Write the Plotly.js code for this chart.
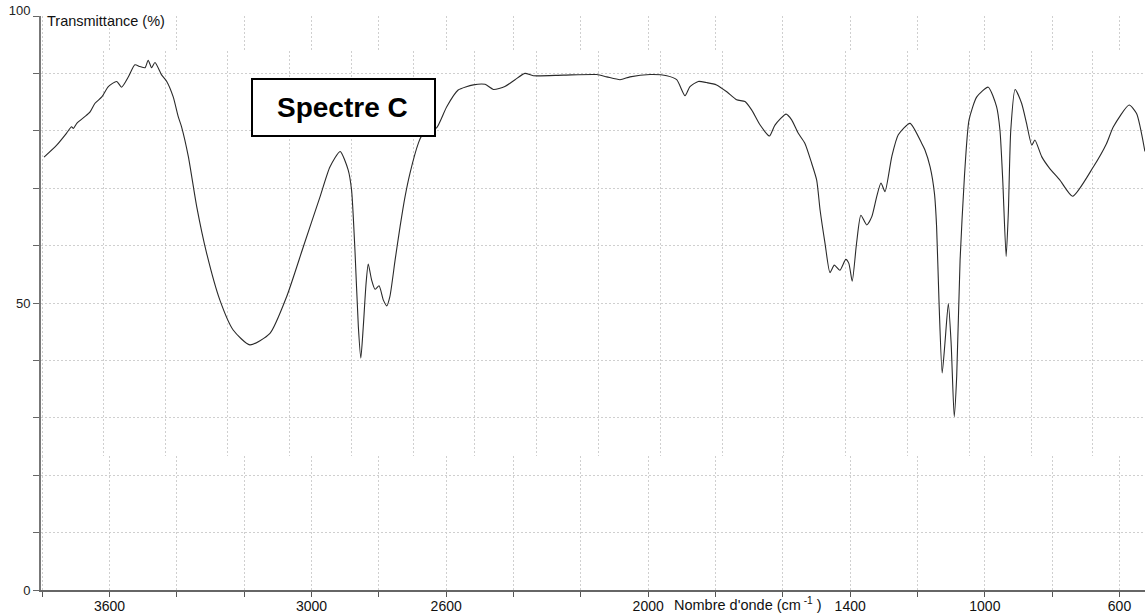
<!DOCTYPE html>
<html>
<head>
<meta charset="utf-8">
<script src="https://cdn.plot.ly/plotly-3.0.1.min.js"></script>
<style>
  html, body { margin: 0; padding: 0; background: #ffffff; }
  #chart { width: 1145px; height: 614px; }
</style>
</head>
<body>
<div id="chart"></div>
<script>
// ---- Data (IR spectrum, wavenumber in cm-1, transmittance in %) ----
const wavenumber = [
  3994, 3953, 3921, 3905, 3899, 3888, 3861, 3845, 3829, 3807,
  3786, 3759, 3743, 3721, 3700, 3684, 3667, 3657, 3646, 3635,
  3613, 3597, 3576, 3560, 3549, 3527, 3500, 3468, 3425, 3382,
  3328, 3263, 3209, 3155, 3101, 3069, 3036, 3010, 2999, 2988,
  2977, 2969, 2961, 2952, 2945, 2934, 2923, 2910, 2896, 2885,
  2875, 2858, 2842, 2826, 2810, 2783, 2772, 2745, 2724, 2691,
  2654, 2605, 2567, 2540, 2503, 2470, 2438, 2411, 2314, 2206,
  2173, 2130, 2098, 2033, 1979, 1947, 1920, 1904, 1877, 1850,
  1818, 1785, 1753, 1726, 1704, 1677, 1647, 1629, 1593, 1575,
  1554, 1532, 1510, 1494, 1483, 1467, 1451, 1437, 1419, 1400,
  1390, 1379, 1365, 1351, 1332, 1316, 1300, 1286, 1273, 1251,
  1230, 1192, 1154, 1144, 1127, 1113, 1106, 1098, 1088, 1079,
  1068, 1059, 1049, 1041, 1030, 1016, 1001, 976, 939, 912,
  901, 892, 881, 874, 866, 852, 831, 815, 798, 788,
  766, 741, 707, 666, 599, 556, 534, 483, 459, 432
];
const transmittance = [
  75.4, 77.5, 79.6, 80.7, 80.4, 81.3, 82.5, 83.3, 84.8, 85.9,
  87.7, 88.6, 87.6, 89.4, 91.5, 91.2, 91.0, 92.3, 91.0, 91.9,
  89.7, 88.6, 85.9, 82.5, 80.7, 75.5, 66.8, 58.7, 50.5, 45.3,
  42.7, 44.7, 51.1, 59.8, 68.5, 73.7, 76.4, 73.2, 69.7, 59.2,
  45.9, 40.4, 45.9, 53.4, 56.8, 54.0, 52.4, 53.0, 50.5, 49.5,
  51.1, 57.5, 63.3, 68.5, 72.6, 77.8, 79.1, 80.0, 80.5, 84.2,
  87.1, 88.0, 88.1, 87.2, 87.7, 88.9, 90.0, 89.6, 89.7, 89.8,
  89.4, 88.9, 89.4, 89.8, 89.6, 88.9, 86.1, 87.7, 88.6, 88.4,
  88.0, 86.8, 85.4, 85.1, 83.6, 81.0, 79.1, 81.0, 82.9, 81.9,
  79.6, 77.8, 74.3, 71.4, 66.2, 60.4, 55.3, 56.6, 55.7, 57.6,
  56.9, 53.8, 60.4, 65.3, 63.6, 65.0, 68.5, 70.9, 69.4, 75.5,
  79.3, 81.3, 77.8, 76.7, 73.7, 69.1, 63.3, 49.9, 37.8, 43.0,
  49.9, 43.0, 30.2, 37.2, 57.5, 72.0, 81.9, 85.9, 87.6, 84.2,
  80.1, 71.4, 58.1, 65.6, 80.1, 87.2, 84.8, 81.3, 77.5, 78.4,
  75.5, 73.5, 71.4, 68.6, 73.7, 77.8, 80.7, 84.5, 83.0, 76.4
];

// Labelled ticks (unlabelled ticks come from the minor tick grid every 200 cm-1 / 10 %)
const xTickValues = [3600, 3000, 2600, 2000, 1400, 1000, 600];
const xTickLabels = ['3600', '3000', '2600', '2000', '1400', '1000', '600'];
const yTickValuesBottom = [0], yTickLabelsBottom = ['0'];
const yTickValuesMiddle = [50], yTickLabelsMiddle = ['50'];
const yTickValuesTop = [100], yTickLabelsTop = ['100'];

const chartTitle = 'Spectre C';
const xTitle = "Nombre d'onde (cm<sup> -1</sup> )";
const yTitle = 'Transmittance (%)';

// ---- Layout geometry ----
const FONT = 'Liberation Sans, Arial, Helvetica, sans-serif';
const W = 1145, H = 614;
const M = { l: 41, r: 0, t: 16, b: 24 };
const plotW = W - M.l - M.r;   // 1104
const plotH = H - M.t - M.b;   // 574
const pxToPaperX = px => (px - M.l) / plotW;
const pxToPaperY = py => (H - M.b - py) / plotH;

// horizontal bands of the picture (the spectrum band has its own x scale)
const seamLow = pxToPaperY(456);
const seamHigh = pxToPaperY(51);

const GRID_COLOR = '#cfcfcf';
const GRID_DASH = '2px,2px';
const gridStyle = { showgrid: true, gridcolor: GRID_COLOR, gridwidth: 1, griddash: GRID_DASH, zeroline: false };

function yAxis(domain, anchor, vals, labels, shift) {
  return Object.assign({}, gridStyle, {
    domain: domain,
    range: [domain[0] * 100, domain[1] * 100],
    anchor: anchor,
    tickmode: 'array',
    tickvals: vals,
    ticktext: labels,
    ticks: 'outside', ticklen: 6, tickwidth: 1, tickcolor: '#666',
    ticklabelshift: shift || 0,
    minor: {
      tickmode: 'linear', tick0: 0, dtick: 10,
      ticks: 'outside', ticklen: 6, tickwidth: 1, tickcolor: '#666',
      showgrid: true, gridcolor: GRID_COLOR, gridwidth: 1, griddash: GRID_DASH
    },
    showline: true, linecolor: '#777', linewidth: 2,
    tickfont: { family: FONT, size: 13, color: '#222' },
    fixedrange: true
  });
}

const bottomRange = [3803.5, 524.3];
const spectrumRange = [4003.8, 431.7];

const layout = {
  width: W, height: H,
  margin: M,
  paper_bgcolor: '#ffffff',
  plot_bgcolor: '#ffffff',
  showlegend: false,
  xaxis: Object.assign({}, gridStyle, {
    domain: [0, 1], anchor: 'y', range: bottomRange,
    tickmode: 'array', tickvals: xTickValues, ticktext: xTickLabels,
    ticks: 'outside', ticklen: 5, tickwidth: 1, tickcolor: '#555',
    ticklabelstandoff: -3,
    minor: {
      tickmode: 'linear', tick0: 0, dtick: 200,
      ticks: 'outside', ticklen: 5, tickwidth: 1, tickcolor: '#555',
      showgrid: true, gridcolor: GRID_COLOR, gridwidth: 1, griddash: GRID_DASH
    },
    showline: true, linecolor: '#666', linewidth: 2,
    tickfont: { family: FONT, size: 14, color: '#111' },
    fixedrange: true
  }),
  xaxis2: Object.assign({}, gridStyle, {
    domain: [0, 1], anchor: 'y2', range: spectrumRange,
    tickmode: 'linear', tick0: 0, dtick: 200,
    showticklabels: false, ticks: '', showline: false, fixedrange: true
  }),
  xaxis3: Object.assign({}, gridStyle, {
    domain: [0, 1], anchor: 'y3', range: bottomRange,
    tickmode: 'linear', tick0: 0, dtick: 200,
    showticklabels: false, ticks: '', showline: false, fixedrange: true
  }),
  yaxis: yAxis([0, seamLow], 'x', yTickValuesBottom, yTickLabelsBottom, 0),
  yaxis2: yAxis([seamLow, seamHigh], 'x2', yTickValuesMiddle, yTickLabelsMiddle, 0),
  yaxis3: yAxis([seamHigh, 1], 'x3', yTickValuesTop, yTickLabelsTop, -6),
  shapes: [{
    type: 'rect', xref: 'paper', yref: 'paper',
    x0: pxToPaperX(252), x1: pxToPaperX(435),
    y0: pxToPaperY(136), y1: pxToPaperY(79),
    line: { color: '#000', width: 2 }, fillcolor: '#ffffff', layer: 'above'
  }],
  annotations: [
    {
      text: '<b>' + chartTitle + '</b>', xref: 'paper', yref: 'paper',
      x: pxToPaperX(342.5), y: pxToPaperY(107.5), xanchor: 'center', yanchor: 'middle',
      showarrow: false, font: { family: FONT, size: 28, color: '#000' }
    },
    {
      text: yTitle, xref: 'paper', yref: 'paper',
      x: pxToPaperX(45), y: pxToPaperY(21), xanchor: 'left', yanchor: 'middle',
      showarrow: false, font: { family: FONT, size: 14.5, color: '#111' }
    },
    {
      text: xTitle, xref: 'paper', yref: 'paper',
      x: pxToPaperX(672), y: pxToPaperY(604), xanchor: 'left', yanchor: 'middle',
      showarrow: false, font: { family: FONT, size: 14.5, color: '#111' }
    }
  ]
};

const traces = [
  {
    type: 'scatter', mode: 'lines',
    x: wavenumber, y: transmittance,
    xaxis: 'x2', yaxis: 'y2',
    line: { color: '#2a2a2a', width: 1.1, shape: 'spline', smoothing: 0.6 },
    hoverinfo: 'x+y'
  },
  // empty traces so the axis-only bands (bottom axis strip, top strip) are drawn
  { type: 'scatter', mode: 'lines', x: [], y: [], xaxis: 'x', yaxis: 'y', hoverinfo: 'skip' },
  { type: 'scatter', mode: 'lines', x: [], y: [], xaxis: 'x3', yaxis: 'y3', hoverinfo: 'skip' }
];

Plotly.newPlot('chart', traces, layout, { displayModeBar: false, staticPlot: true });
</script>
</body>
</html>
